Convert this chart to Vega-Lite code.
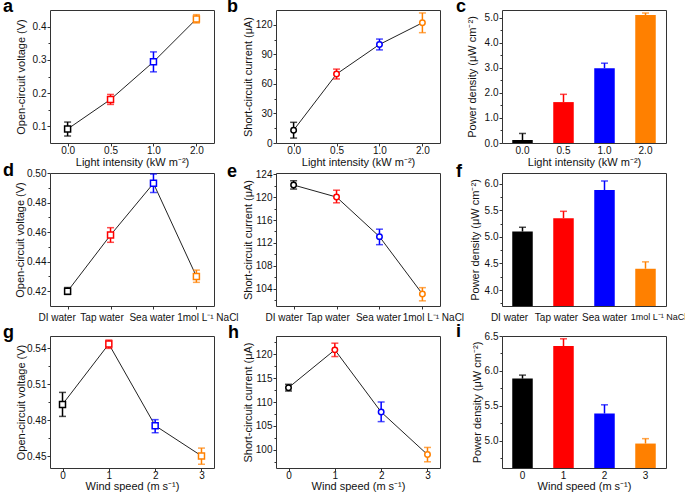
{
  "$schema": "https://vega.github.io/schema/vega-lite/v6.json",
  "padding": {"left": 2, "top": -3, "right": 0, "bottom": 0},
  "background": "white",
  "columns": 3,
  "spacing": {"row": 30, "column": 62},
  "bounds": "flush",
  "resolve": {"scale": {"color": "independent", "stroke": "independent", "x": "independent", "y": "independent"}},
  "config": {
    "view": {"stroke": "#333333", "strokeWidth": 1},
    "axis": {"domain": false, "grid": false, "labelOverlap": false, "labelFont": "Liberation Sans", "labelFontSize": 10, "labelColor": "#111111", "titleFont": "Liberation Sans", "titleFontSize": 11, "titleFontWeight": "normal", "titleColor": "#111111", "tickColor": "#333333", "tickSize": 3},
    "axisY": {"labelPadding": 1, "titleBaseline": "middle"},
    "title": {"font": "Liberation Sans", "fontSize": 18, "fontWeight": "bold", "anchor": "start", "frame": "group", "offset": 0, "baseline": "alphabetic", "color": "#000000"}
  },
  "concat": [
    {
      "width": 164, "height": 133,
      "title": {"text": "a", "dx": -47, "dy": 10},
      "data": {"values": [
        {"x": "0.0", "v": 0.092, "lo": 0.071, "hi": 0.113},
        {"x": "0.5", "v": 0.181, "lo": 0.166, "hi": 0.196},
        {"x": "1.0", "v": 0.294, "lo": 0.264, "hi": 0.324},
        {"x": "2.0", "v": 0.423, "lo": 0.411, "hi": 0.436}
      ]},
      "resolve": {"axis": {"y": "independent"}},
      "encoding": {"x": {"field": "x", "type": "ordinal", "sort": null, "scale": {"type": "point", "padding": 0.41}, "axis": {"title": "Light intensity (kW m⁻²)", "labelAngle": 0, "labelPadding": -1, "titleY": 13}}},
      "layer": [
        {"mark": {"type": "line", "color": "#222222", "strokeWidth": 1}, "encoding": {"y": {"field": "v", "type": "quantitative", "scale": {"domain": [0.05, 0.45]}, "axis": {"orient": "left", "title": "Open-circuit voltage (V)", "values": [0.1, 0.2, 0.3, 0.4], "format": ".1f", "titleX": -29}}}},
        {"mark": {"type": "rule", "strokeWidth": 1.5}, "encoding": {"y": {"field": "lo", "type": "quantitative", "scale": {"domain": [0.05, 0.45]}, "axis": null}, "y2": {"field": "hi"}, "color": {"field": "x", "type": "nominal", "sort": null, "scale": {"range": ["#000000", "#ff0000", "#0000ff", "#ff8000"]}, "legend": null}}},
        {"mark": {"type": "tick", "size": 7, "thickness": 1.5}, "encoding": {"y": {"field": "lo", "type": "quantitative", "scale": {"domain": [0.05, 0.45]}, "axis": null}, "color": {"field": "x", "type": "nominal", "sort": null, "scale": {"range": ["#000000", "#ff0000", "#0000ff", "#ff8000"]}, "legend": null}}},
        {"mark": {"type": "tick", "size": 7, "thickness": 1.5}, "encoding": {"y": {"field": "hi", "type": "quantitative", "scale": {"domain": [0.05, 0.45]}, "axis": {"orient": "left", "values": [0.15, 0.25, 0.35], "labels": false, "title": null, "tickSize": 2}}, "color": {"field": "x", "type": "nominal", "sort": null, "scale": {"range": ["#000000", "#ff0000", "#0000ff", "#ff8000"]}, "legend": null}}},
        {"mark": {"type": "point", "shape": "square", "size": 36, "strokeWidth": 1.5, "fill": "white", "fillOpacity": 1, "opacity": 1}, "encoding": {"y": {"field": "v", "type": "quantitative", "scale": {"domain": [0.05, 0.45]}, "axis": null}, "stroke": {"field": "x", "type": "nominal", "sort": null, "scale": {"range": ["#000000", "#ff0000", "#0000ff", "#ff8000"]}, "legend": null}}}
      ]
    },
    {
      "width": 164, "height": 133,
      "title": {"text": "b", "dx": -49, "dy": 10},
      "data": {"values": [
        {"x": "0.0", "v": 13, "lo": 5, "hi": 21},
        {"x": "0.5", "v": 70, "lo": 65, "hi": 75},
        {"x": "1.0", "v": 100, "lo": 94.5, "hi": 105.5},
        {"x": "2.0", "v": 122, "lo": 112, "hi": 132}
      ]},
      "resolve": {"axis": {"y": "independent"}},
      "encoding": {"x": {"field": "x", "type": "ordinal", "sort": null, "scale": {"type": "point", "padding": 0.41}, "axis": {"title": "Light intensity (kW m⁻²)", "labelAngle": 0, "labelPadding": -1, "titleY": 13}}},
      "layer": [
        {"mark": {"type": "line", "color": "#222222", "strokeWidth": 1}, "encoding": {"y": {"field": "v", "type": "quantitative", "scale": {"domain": [0, 135]}, "axis": {"orient": "left", "title": "Short-circuit current (μA)", "values": [0, 30, 60, 90, 120], "titleX": -27.3}}}},
        {"mark": {"type": "rule", "strokeWidth": 1.5}, "encoding": {"y": {"field": "lo", "type": "quantitative", "scale": {"domain": [0, 135]}, "axis": null}, "y2": {"field": "hi"}, "color": {"field": "x", "type": "nominal", "sort": null, "scale": {"range": ["#000000", "#ff0000", "#0000ff", "#ff8000"]}, "legend": null}}},
        {"mark": {"type": "tick", "size": 7, "thickness": 1.5}, "encoding": {"y": {"field": "lo", "type": "quantitative", "scale": {"domain": [0, 135]}, "axis": null}, "color": {"field": "x", "type": "nominal", "sort": null, "scale": {"range": ["#000000", "#ff0000", "#0000ff", "#ff8000"]}, "legend": null}}},
        {"mark": {"type": "tick", "size": 7, "thickness": 1.5}, "encoding": {"y": {"field": "hi", "type": "quantitative", "scale": {"domain": [0, 135]}, "axis": {"orient": "left", "values": [15, 45, 75, 105], "labels": false, "title": null, "tickSize": 2}}, "color": {"field": "x", "type": "nominal", "sort": null, "scale": {"range": ["#000000", "#ff0000", "#0000ff", "#ff8000"]}, "legend": null}}},
        {"mark": {"type": "point", "shape": "circle", "size": 30, "strokeWidth": 1.5, "fill": "white", "fillOpacity": 1, "opacity": 1}, "encoding": {"y": {"field": "v", "type": "quantitative", "scale": {"domain": [0, 135]}, "axis": null}, "stroke": {"field": "x", "type": "nominal", "sort": null, "scale": {"range": ["#000000", "#ff0000", "#0000ff", "#ff8000"]}, "legend": null}}}
      ]
    },
    {
      "width": 164, "height": 133,
      "title": {"text": "c", "dx": -46, "dy": 10},
      "data": {"values": [
        {"x": "0.0", "v": 0.12, "hi": 0.38},
        {"x": "0.5", "v": 1.63, "hi": 1.94},
        {"x": "1.0", "v": 2.98, "hi": 3.18},
        {"x": "2.0", "v": 5.1, "hi": 5.18}
      ]},
      "resolve": {"axis": {"y": "independent"}},
      "encoding": {"x": {"field": "x", "type": "ordinal", "sort": null, "scale": {"type": "band", "paddingInner": 0.5, "paddingOuter": 0.25}, "axis": {"title": "Light intensity (kW m⁻²)", "labelAngle": 0, "ticks": false, "tickSize": 0, "labelPadding": 2, "titleY": 13}}},
      "layer": [
        {"mark": {"type": "bar"}, "encoding": {"y": {"field": "v", "type": "quantitative", "scale": {"domain": [0, 5.3]}, "axis": {"orient": "left", "title": "Power density (μW cm⁻²)", "values": [0, 1, 2, 3, 4, 5], "format": ".1f", "titleX": -30}}, "y2": {"datum": 0}, "color": {"field": "x", "type": "nominal", "sort": null, "scale": {"range": ["#000000", "#ff0000", "#0000ff", "#ff8000"]}, "legend": null}}},
        {"mark": {"type": "rule", "strokeWidth": 1.5}, "encoding": {"y": {"field": "v", "type": "quantitative", "scale": {"domain": [0, 5.3]}, "axis": null}, "y2": {"field": "hi"}, "color": {"field": "x", "type": "nominal", "sort": null, "scale": {"range": ["#000000", "#ff0000", "#0000ff", "#ff8000"]}, "legend": null}}},
        {"mark": {"type": "tick", "size": 7, "thickness": 1.5}, "encoding": {"y": {"field": "hi", "type": "quantitative", "scale": {"domain": [0, 5.3]}, "axis": {"orient": "left", "values": [0.5, 1.5, 2.5, 3.5, 4.5], "labels": false, "title": null, "tickSize": 2}}, "color": {"field": "x", "type": "nominal", "sort": null, "scale": {"range": ["#000000", "#ff0000", "#0000ff", "#ff8000"]}, "legend": null}}}
      ]
    },
    {
      "width": 164, "height": 133,
      "title": {"text": "d", "dx": -47, "dy": 16},
      "data": {"values": [
        {"x": "DI water", "v": 0.42, "lo": 0.4178, "hi": 0.4225},
        {"x": "Tap water", "v": 0.458, "lo": 0.4531, "hi": 0.463},
        {"x": "Sea water", "v": 0.493, "lo": 0.4868, "hi": 0.4993},
        {"x": "1mol L⁻¹ NaCl", "v": 0.43, "lo": 0.426, "hi": 0.4343}
      ]},
      "resolve": {"axis": {"y": "independent"}},
      "encoding": {"x": {"field": "x", "type": "ordinal", "sort": null, "scale": {"type": "point", "padding": 0.41}, "axis": {"title": null, "labelAngle": 0, "labelPadding": 3, "labelOffset": {"condition": [{"test": "datum.value === 'DI water'", "value": -11}, {"test": "datum.value === 'Tap water'", "value": -9}, {"test": "datum.value === 'Sea water'", "value": -2}], "value": 11}}}},
      "layer": [
        {"mark": {"type": "line", "color": "#222222", "strokeWidth": 1}, "encoding": {"y": {"field": "v", "type": "quantitative", "scale": {"domain": [0.41, 0.5]}, "axis": {"orient": "left", "title": "Open-circuit voltage (V)", "values": [0.42, 0.44, 0.46, 0.48, 0.5], "format": ".2f", "titleX": -29.7}}}},
        {"mark": {"type": "rule", "strokeWidth": 1.5}, "encoding": {"y": {"field": "lo", "type": "quantitative", "scale": {"domain": [0.41, 0.5]}, "axis": null}, "y2": {"field": "hi"}, "color": {"field": "x", "type": "nominal", "sort": null, "scale": {"range": ["#000000", "#ff0000", "#0000ff", "#ff8000"]}, "legend": null}}},
        {"mark": {"type": "tick", "size": 7, "thickness": 1.5}, "encoding": {"y": {"field": "lo", "type": "quantitative", "scale": {"domain": [0.41, 0.5]}, "axis": null}, "color": {"field": "x", "type": "nominal", "sort": null, "scale": {"range": ["#000000", "#ff0000", "#0000ff", "#ff8000"]}, "legend": null}}},
        {"mark": {"type": "tick", "size": 7, "thickness": 1.5}, "encoding": {"y": {"field": "hi", "type": "quantitative", "scale": {"domain": [0.41, 0.5]}, "axis": {"orient": "left", "values": [0.43, 0.45, 0.47, 0.49], "labels": false, "title": null, "tickSize": 2}}, "color": {"field": "x", "type": "nominal", "sort": null, "scale": {"range": ["#000000", "#ff0000", "#0000ff", "#ff8000"]}, "legend": null}}},
        {"mark": {"type": "point", "shape": "square", "size": 36, "strokeWidth": 1.5, "fill": "white", "fillOpacity": 1, "opacity": 1}, "encoding": {"y": {"field": "v", "type": "quantitative", "scale": {"domain": [0.41, 0.5]}, "axis": null}, "stroke": {"field": "x", "type": "nominal", "sort": null, "scale": {"range": ["#000000", "#ff0000", "#0000ff", "#ff8000"]}, "legend": null}}}
      ]
    },
    {
      "width": 164, "height": 133,
      "title": {"text": "e", "dx": -49, "dy": 16},
      "data": {"values": [
        {"x": "DI water", "v": 122.1, "lo": 121.4, "hi": 122.85},
        {"x": "Tap water", "v": 120.0, "lo": 119.0, "hi": 121.2},
        {"x": "Sea water", "v": 113.1, "lo": 111.7, "hi": 114.4},
        {"x": "1mol L⁻¹ NaCl", "v": 103.1, "lo": 101.9, "hi": 104.2}
      ]},
      "resolve": {"axis": {"y": "independent"}},
      "encoding": {"x": {"field": "x", "type": "ordinal", "sort": null, "scale": {"type": "point", "padding": 0.41}, "axis": {"title": null, "labelAngle": 0, "labelPadding": 3, "labelOffset": {"condition": [{"test": "datum.value === 'DI water'", "value": -10}, {"test": "datum.value === 'Tap water'", "value": -9}, {"test": "datum.value === 'Sea water'", "value": -1.5}], "value": 10.5}}}},
      "layer": [
        {"mark": {"type": "line", "color": "#222222", "strokeWidth": 1}, "encoding": {"y": {"field": "v", "type": "quantitative", "scale": {"domain": [101, 124.2], "zero": false}, "axis": {"orient": "left", "title": "Short-circuit current (μA)", "values": [104, 108, 112, 116, 120, 124], "titleX": -27.3}}}},
        {"mark": {"type": "rule", "strokeWidth": 1.5}, "encoding": {"y": {"field": "lo", "type": "quantitative", "scale": {"domain": [101, 124.2], "zero": false}, "axis": null}, "y2": {"field": "hi"}, "color": {"field": "x", "type": "nominal", "sort": null, "scale": {"range": ["#000000", "#ff0000", "#0000ff", "#ff8000"]}, "legend": null}}},
        {"mark": {"type": "tick", "size": 7, "thickness": 1.5}, "encoding": {"y": {"field": "lo", "type": "quantitative", "scale": {"domain": [101, 124.2], "zero": false}, "axis": null}, "color": {"field": "x", "type": "nominal", "sort": null, "scale": {"range": ["#000000", "#ff0000", "#0000ff", "#ff8000"]}, "legend": null}}},
        {"mark": {"type": "tick", "size": 7, "thickness": 1.5}, "encoding": {"y": {"field": "hi", "type": "quantitative", "scale": {"domain": [101, 124.2], "zero": false}, "axis": {"orient": "left", "values": [102, 106, 110, 114, 118, 122], "labels": false, "title": null, "tickSize": 2}}, "color": {"field": "x", "type": "nominal", "sort": null, "scale": {"range": ["#000000", "#ff0000", "#0000ff", "#ff8000"]}, "legend": null}}},
        {"mark": {"type": "point", "shape": "circle", "size": 30, "strokeWidth": 1.5, "fill": "white", "fillOpacity": 1, "opacity": 1}, "encoding": {"y": {"field": "v", "type": "quantitative", "scale": {"domain": [101, 124.2], "zero": false}, "axis": null}, "stroke": {"field": "x", "type": "nominal", "sort": null, "scale": {"range": ["#000000", "#ff0000", "#0000ff", "#ff8000"]}, "legend": null}}}
      ]
    },
    {
      "width": 164, "height": 133,
      "title": {"text": "f", "dx": -46, "dy": 12},
      "data": {"values": [
        {"x": "DI water", "v": 5.1, "hi": 5.18},
        {"x": "Tap water", "v": 5.35, "hi": 5.48},
        {"x": "Sea water", "v": 5.88, "hi": 6.05},
        {"x": "1mol L⁻¹ NaCl", "v": 4.4, "hi": 4.53}
      ]},
      "resolve": {"axis": {"y": "independent"}},
      "encoding": {"x": {"field": "x", "type": "ordinal", "sort": null, "scale": {"type": "band", "paddingInner": 0.5, "paddingOuter": 0.25}, "axis": {"title": null, "labelAngle": 0, "ticks": false, "tickSize": 0, "labelPadding": 6, "labelFontSize": {"condition": {"test": "datum.value === '1mol L⁻¹ NaCl'", "value": 9}, "value": 10}, "labelOffset": {"condition": [{"test": "datum.value === 'DI water'", "value": -13}, {"test": "datum.value === 'Tap water'", "value": -7}, {"test": "datum.value === 'Sea water'", "value": 0}], "value": 13}}}},
      "layer": [
        {"mark": {"type": "bar", "clip": true}, "encoding": {"y": {"field": "v", "type": "quantitative", "scale": {"domain": [3.7, 6.2], "zero": false}, "axis": {"orient": "left", "title": "Power density (μW cm⁻²)", "values": [4, 4.5, 5, 5.5, 6], "format": ".1f", "titleX": -26.7}}, "y2": {"datum": 3.7}, "color": {"field": "x", "type": "nominal", "sort": null, "scale": {"range": ["#000000", "#ff0000", "#0000ff", "#ff8000"]}, "legend": null}}},
        {"mark": {"type": "rule", "strokeWidth": 1.5}, "encoding": {"y": {"field": "v", "type": "quantitative", "scale": {"domain": [3.7, 6.2], "zero": false}, "axis": null}, "y2": {"field": "hi"}, "color": {"field": "x", "type": "nominal", "sort": null, "scale": {"range": ["#000000", "#ff0000", "#0000ff", "#ff8000"]}, "legend": null}}},
        {"mark": {"type": "tick", "size": 7, "thickness": 1.5}, "encoding": {"y": {"field": "hi", "type": "quantitative", "scale": {"domain": [3.7, 6.2], "zero": false}, "axis": {"orient": "left", "values": [3.75, 4.25, 4.75, 5.25, 5.75], "labels": false, "title": null, "tickSize": 2}}, "color": {"field": "x", "type": "nominal", "sort": null, "scale": {"range": ["#000000", "#ff0000", "#0000ff", "#ff8000"]}, "legend": null}}}
      ]
    },
    {
      "width": 164, "height": 132,
      "title": {"text": "g", "dx": -47, "dy": 10},
      "data": {"values": [
        {"x": "0", "v": 0.493, "lo": 0.483, "hi": 0.503},
        {"x": "1", "v": 0.5433, "lo": 0.5397, "hi": 0.5466},
        {"x": "2", "v": 0.4753, "lo": 0.4694, "hi": 0.4803},
        {"x": "3", "v": 0.4501, "lo": 0.4431, "hi": 0.4566}
      ]},
      "resolve": {"axis": {"y": "independent"}},
      "encoding": {"x": {"field": "x", "type": "ordinal", "sort": null, "scale": {"type": "point", "padding": 0.27}, "axis": {"title": "Wind speed (m s⁻¹)", "labelAngle": 0, "labelPadding": -1, "titleY": 12}}},
      "layer": [
        {"mark": {"type": "line", "color": "#222222", "strokeWidth": 1}, "encoding": {"y": {"field": "v", "type": "quantitative", "scale": {"domain": [0.44, 0.55], "zero": false}, "axis": {"orient": "left", "title": "Open-circuit voltage (V)", "values": [0.45, 0.48, 0.51, 0.54], "format": ".2f", "titleX": -29}}}},
        {"mark": {"type": "rule", "strokeWidth": 1.5}, "encoding": {"y": {"field": "lo", "type": "quantitative", "scale": {"domain": [0.44, 0.55], "zero": false}, "axis": null}, "y2": {"field": "hi"}, "color": {"field": "x", "type": "nominal", "sort": null, "scale": {"range": ["#000000", "#ff0000", "#0000ff", "#ff8000"]}, "legend": null}}},
        {"mark": {"type": "tick", "size": 7, "thickness": 1.5}, "encoding": {"y": {"field": "lo", "type": "quantitative", "scale": {"domain": [0.44, 0.55], "zero": false}, "axis": null}, "color": {"field": "x", "type": "nominal", "sort": null, "scale": {"range": ["#000000", "#ff0000", "#0000ff", "#ff8000"]}, "legend": null}}},
        {"mark": {"type": "tick", "size": 7, "thickness": 1.5}, "encoding": {"y": {"field": "hi", "type": "quantitative", "scale": {"domain": [0.44, 0.55], "zero": false}, "axis": {"orient": "left", "values": [0.465, 0.495, 0.525], "labels": false, "title": null, "tickSize": 2}}, "color": {"field": "x", "type": "nominal", "sort": null, "scale": {"range": ["#000000", "#ff0000", "#0000ff", "#ff8000"]}, "legend": null}}},
        {"mark": {"type": "point", "shape": "square", "size": 36, "strokeWidth": 1.5, "fill": "white", "fillOpacity": 1, "opacity": 1}, "encoding": {"y": {"field": "v", "type": "quantitative", "scale": {"domain": [0.44, 0.55], "zero": false}, "axis": null}, "stroke": {"field": "x", "type": "nominal", "sort": null, "scale": {"range": ["#000000", "#ff0000", "#0000ff", "#ff8000"]}, "legend": null}}}
      ]
    },
    {
      "width": 164, "height": 132,
      "title": {"text": "h", "dx": -48, "dy": 10},
      "data": {"values": [
        {"x": "0", "v": 113, "lo": 112.3, "hi": 113.7},
        {"x": "1", "v": 120.9, "lo": 119.5, "hi": 122.3},
        {"x": "2", "v": 107.9, "lo": 105.9, "hi": 110},
        {"x": "3", "v": 99, "lo": 97.5, "hi": 100.5}
      ]},
      "resolve": {"axis": {"y": "independent"}},
      "encoding": {"x": {"field": "x", "type": "ordinal", "sort": null, "scale": {"type": "point", "padding": 0.27}, "axis": {"title": "Wind speed (m s⁻¹)", "labelAngle": 0, "labelPadding": -1, "titleY": 12}}},
      "layer": [
        {"mark": {"type": "line", "color": "#222222", "strokeWidth": 1}, "encoding": {"y": {"field": "v", "type": "quantitative", "scale": {"domain": [96.2, 123.8], "zero": false}, "axis": {"orient": "left", "title": "Short-circuit current (μA)", "values": [100, 105, 110, 115, 120], "titleX": -27.3}}}},
        {"mark": {"type": "rule", "strokeWidth": 1.5}, "encoding": {"y": {"field": "lo", "type": "quantitative", "scale": {"domain": [96.2, 123.8], "zero": false}, "axis": null}, "y2": {"field": "hi"}, "color": {"field": "x", "type": "nominal", "sort": null, "scale": {"range": ["#000000", "#ff0000", "#0000ff", "#ff8000"]}, "legend": null}}},
        {"mark": {"type": "tick", "size": 7, "thickness": 1.5}, "encoding": {"y": {"field": "lo", "type": "quantitative", "scale": {"domain": [96.2, 123.8], "zero": false}, "axis": null}, "color": {"field": "x", "type": "nominal", "sort": null, "scale": {"range": ["#000000", "#ff0000", "#0000ff", "#ff8000"]}, "legend": null}}},
        {"mark": {"type": "tick", "size": 7, "thickness": 1.5}, "encoding": {"y": {"field": "hi", "type": "quantitative", "scale": {"domain": [96.2, 123.8], "zero": false}, "axis": {"orient": "left", "values": [97.5, 102.5, 107.5, 112.5, 117.5, 122.5], "labels": false, "title": null, "tickSize": 2}}, "color": {"field": "x", "type": "nominal", "sort": null, "scale": {"range": ["#000000", "#ff0000", "#0000ff", "#ff8000"]}, "legend": null}}},
        {"mark": {"type": "point", "shape": "circle", "size": 30, "strokeWidth": 1.5, "fill": "white", "fillOpacity": 1, "opacity": 1}, "encoding": {"y": {"field": "v", "type": "quantitative", "scale": {"domain": [96.2, 123.8], "zero": false}, "axis": null}, "stroke": {"field": "x", "type": "nominal", "sort": null, "scale": {"range": ["#000000", "#ff0000", "#0000ff", "#ff8000"]}, "legend": null}}}
      ]
    },
    {
      "width": 164, "height": 132,
      "title": {"text": "i", "dx": -46, "dy": 14},
      "data": {"values": [
        {"x": "0", "v": 5.89, "hi": 5.94},
        {"x": "1", "v": 6.356, "hi": 6.46},
        {"x": "2", "v": 5.39, "hi": 5.515},
        {"x": "3", "v": 4.96, "hi": 5.03}
      ]},
      "resolve": {"axis": {"y": "independent"}},
      "encoding": {"x": {"field": "x", "type": "ordinal", "sort": null, "scale": {"type": "band", "paddingInner": 0.5, "paddingOuter": 0.25}, "axis": {"title": "Wind speed (m s⁻¹)", "labelAngle": 0, "ticks": false, "tickSize": 0, "labelPadding": 2, "titleY": 12}}},
      "layer": [
        {"mark": {"type": "bar", "clip": true}, "encoding": {"y": {"field": "v", "type": "quantitative", "scale": {"domain": [4.61, 6.5], "zero": false}, "axis": {"orient": "left", "title": "Power density (μW cm⁻²)", "values": [5, 5.5, 6, 6.5], "format": ".1f", "titleX": -24.3}}, "y2": {"datum": 4.61}, "color": {"field": "x", "type": "nominal", "sort": null, "scale": {"range": ["#000000", "#ff0000", "#0000ff", "#ff8000"]}, "legend": null}}},
        {"mark": {"type": "rule", "strokeWidth": 1.5}, "encoding": {"y": {"field": "v", "type": "quantitative", "scale": {"domain": [4.61, 6.5], "zero": false}, "axis": null}, "y2": {"field": "hi"}, "color": {"field": "x", "type": "nominal", "sort": null, "scale": {"range": ["#000000", "#ff0000", "#0000ff", "#ff8000"]}, "legend": null}}},
        {"mark": {"type": "tick", "size": 7, "thickness": 1.5}, "encoding": {"y": {"field": "hi", "type": "quantitative", "scale": {"domain": [4.61, 6.5], "zero": false}, "axis": {"orient": "left", "values": [4.75, 5.25, 5.75, 6.25], "labels": false, "title": null, "tickSize": 2}}, "color": {"field": "x", "type": "nominal", "sort": null, "scale": {"range": ["#000000", "#ff0000", "#0000ff", "#ff8000"]}, "legend": null}}}
      ]
    }
  ]
}
